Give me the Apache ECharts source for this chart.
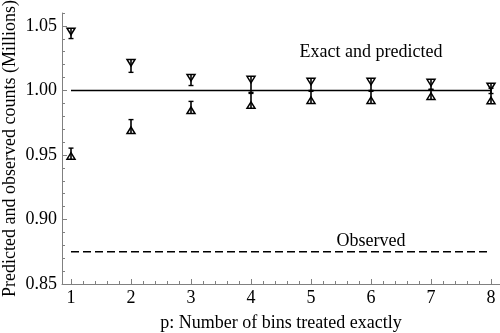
<!DOCTYPE html>
<html>
<head>
<meta charset="utf-8">
<script src="https://cdn.jsdelivr.net/npm/echarts@6/dist/echarts.min.js"></script>
<style>
  html, body { margin: 0; padding: 0; background: #fff; }
  #chart { width: 500px; height: 333px; }
</style>
</head>
<body>
<div id="chart"></div>
<script>
// p values (number of bins treated exactly)
const pValues = [1, 2, 3, 4, 5, 6, 7, 8]
// upper estimate (down triangles): centre of bar and half-width
const upperCenter = [1.0442, 1.019, 1.0081, 1.0047, 1.0047, 1.0047, 1.0047, 1.0016]
const upperErr = [0.004, 0.005, 0.0043, 0.0062, 0.0047, 0.0047, 0.0039, 0.004]
// lower estimate (up triangles)
const lowerCenter = [0.951, 0.972, 0.9868, 0.9919, 0.9946, 0.9946, 0.9969, 0.9957]
const lowerErr = [0.0043, 0.0054, 0.0047, 0.0058, 0.0047, 0.0047, 0.0039, 0.006]
// reference levels
const exactCounts = [1, 1, 1, 1, 1, 1, 1, 1]
const observedCounts = [0.875, 0.875, 0.875, 0.875, 0.875, 0.875, 0.875, 0.875]
// tick labels
const xTicks = [1, 2, 3, 4, 5, 6, 7, 8]
const xMinorTicks = [1.2, 1.4, 1.6, 1.8, 2.2, 2.4, 2.6, 2.8, 3.2, 3.4, 3.6, 3.8, 4.2, 4.4, 4.6, 4.8,
  5.2, 5.4, 5.6, 5.8, 6.2, 6.4, 6.6, 6.8, 7.2, 7.4, 7.6, 7.8]
const yTicks = [0.85, 0.9, 0.95, 1.0, 1.05]
const yMinorTicks = [0.86, 0.87, 0.88, 0.89, 0.91, 0.92, 0.93, 0.94, 0.96, 0.97, 0.98, 0.99,
  1.01, 1.02, 1.03, 1.04, 1.06]

const FONT = '"Liberation Serif", "Times New Roman", serif'
const AXIS_COLOR = '#808080'
const X_MIN = 0.85, X_MAX = 8.15, Y_MIN = 0.85, Y_MAX = 1.06

const chart = echarts.init(document.getElementById('chart'), null, { renderer: 'canvas' })

// error bar with a triangle at the outer end, cap at the inner end
const makeRenderer = (down) => (params, api) => {
  const p = api.value(0), c = api.value(1), e = api.value(2)
  const top = api.coord([p, c + e])
  const bot = api.coord([p, c - e])
  const x = top[0]
  const w = 4, h = 6.5, cap = 2.5
  const stroke = { stroke: '#000', lineWidth: 1.5, fill: null }
  let tri, capY
  if (down) {
    tri = [[x - w, top[1]], [x + w, top[1]], [x, top[1] + h]]
    capY = bot[1]
  } else {
    tri = [[x - w, bot[1]], [x + w, bot[1]], [x, bot[1] - h]]
    capY = top[1]
  }
  return {
    type: 'group',
    children: [
      { type: 'line', shape: { x1: x, y1: top[1], x2: x, y2: bot[1] }, style: { stroke: '#000', lineWidth: 1.6 } },
      { type: 'line', shape: { x1: x - cap, y1: capY, x2: x + cap, y2: capY }, style: { stroke: '#000', lineWidth: 1.4 } },
      { type: 'polygon', shape: { points: tri }, style: stroke }
    ]
  }
}

const option = {
  animation: false,
  backgroundColor: '#fff',
  grid: { left: 62, right: 0, top: 13, bottom: 49, containLabel: false, outerBoundsMode: 'none' },
  xAxis: [
    {
      type: 'value',
      min: X_MIN,
      max: X_MAX,
      name: 'p: Number of bins treated exactly',
      nameLocation: 'middle',
      nameGap: 30,
      nameMoveOverlap: false,
      nameTextStyle: { fontFamily: FONT, fontSize: 18, color: '#000' },
      axisLine: { lineStyle: { color: AXIS_COLOR, width: 1 } },
      axisTick: { show: true, inside: true, length: 5, customValues: xTicks, lineStyle: { color: AXIS_COLOR } },
      axisLabel: { customValues: xTicks, fontFamily: FONT, fontSize: 18, color: '#000', margin: 5 },
      splitLine: { show: false }
    },
    {
      type: 'value',
      min: X_MIN,
      max: X_MAX,
      position: 'bottom',
      axisLine: { show: false },
      axisTick: { show: true, inside: true, length: 3, customValues: xMinorTicks, lineStyle: { color: AXIS_COLOR } },
      axisLabel: { show: false },
      splitLine: { show: false }
    }
  ],
  yAxis: [
    {
      type: 'value',
      min: Y_MIN,
      max: Y_MAX,
      name: 'Predicted and observed counts (Millions)',
      nameLocation: 'middle',
      nameGap: 43,
      nameRotate: 90,
      nameMoveOverlap: false,
      nameTextStyle: { fontFamily: FONT, fontSize: 18, color: '#000' },
      axisLine: { show: true, lineStyle: { color: AXIS_COLOR, width: 1 } },
      axisTick: { show: true, inside: true, length: 5, customValues: yTicks, lineStyle: { color: AXIS_COLOR } },
      axisLabel: {
        customValues: yTicks,
        fontFamily: FONT, fontSize: 18, color: '#000', margin: 5,
        formatter: v => v.toFixed(2)
      },
      splitLine: { show: false }
    },
    {
      type: 'value',
      min: Y_MIN,
      max: Y_MAX,
      position: 'left',
      axisLine: { show: false },
      axisTick: { show: true, inside: true, length: 3, customValues: yMinorTicks, lineStyle: { color: AXIS_COLOR } },
      axisLabel: { show: false },
      splitLine: { show: false }
    }
  ],
  series: [
    {
      name: 'Exact and predicted',
      type: 'line',
      data: pValues.map((p, i) => [p, exactCounts[i]]),
      symbol: 'none',
      lineStyle: { color: '#000', width: 1.5 },
      markPoint: {
        symbol: 'circle',
        symbolSize: 0,
        label: { show: true, formatter: '{b}', fontFamily: FONT, fontSize: 18, color: '#000', position: 'inside' },
        data: [{ name: 'Exact and predicted', coord: [6, 1.0295] }]
      }
    },
    {
      name: 'Observed',
      type: 'line',
      data: pValues.map((p, i) => [p, observedCounts[i]]),
      symbol: 'none',
      lineStyle: { color: '#000', width: 1.5, type: [8, 4] },
      markPoint: {
        symbol: 'circle',
        symbolSize: 0,
        label: { show: true, formatter: '{b}', fontFamily: FONT, fontSize: 18, color: '#000', position: 'inside' },
        data: [{ name: 'Observed', coord: [6, 0.883] }]
      }
    },
    {
      name: 'Upper',
      type: 'custom',
      clip: false,
      renderItem: makeRenderer(true),
      data: pValues.map((p, i) => [p, upperCenter[i], upperErr[i]]),
      encode: { x: 0, y: 1 }
    },
    {
      name: 'Lower',
      type: 'custom',
      clip: false,
      renderItem: makeRenderer(false),
      data: pValues.map((p, i) => [p, lowerCenter[i], lowerErr[i]]),
      encode: { x: 0, y: 1 }
    }
  ]
}

chart.setOption(option)
</script>
</body>
</html>
